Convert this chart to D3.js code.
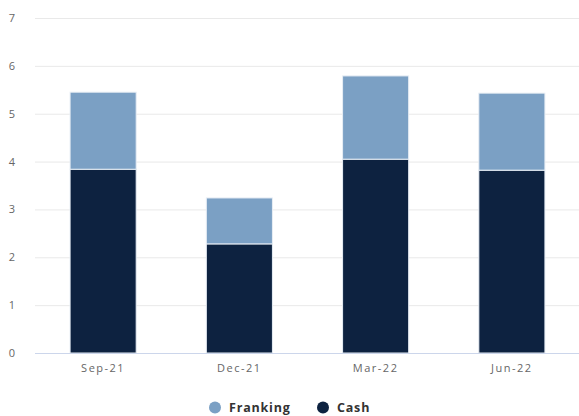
<!DOCTYPE html>
<html>
<head>
<meta charset="utf-8">
<script src="https://cdn.jsdelivr.net/npm/d3@7"></script>
<style>
  body { margin: 0; background: #fff; }
  text { font-family: "Open Sans", "DejaVu Sans", sans-serif; }
</style>
</head>
<body>
<div id="chart"></div>
<script>
// quarters and dividend components (cents per share)
var quarters = ["Sep-21", "Dec-21", "Mar-22", "Jun-22"];
var cash     = [3.84, 2.28, 4.05, 3.82];
var franking = [1.61, 0.96, 1.74, 1.61];
var yTicks   = [0, 1, 2, 3, 4, 5, 6, 7];
var seriesNames = ["Franking", "Cash"];

var color = d3.scaleOrdinal()
    .domain(seriesNames)
    .range(["#7ba0c4", "#0d2240"]);

var width = 579, height = 416;

var svg = d3.select("#chart").append("svg")
    .attr("width", width)
    .attr("height", height);

var x = d3.scaleBand()
    .domain(quarters)
    .range([35, 580])
    .paddingInner(0.515)
    .paddingOuter(0.2575);

var y = d3.scaleLinear()
    .domain([0, 7])
    .range([353, 18]);

// gridlines
svg.append("g")
    .selectAll("line")
    .data(yTicks.filter(d => d > 0))
    .join("line")
    .attr("x1", 35).attr("x2", width)
    .attr("y1", d => y(d) + 0.5).attr("y2", d => y(d) + 0.5)
    .attr("stroke", "#e9e9e9")
    .attr("stroke-width", 1);

// y labels
svg.append("g")
    .selectAll("text")
    .data(yTicks)
    .join("text")
    .attr("x", 15)
    .attr("y", d => y(d) + 4)
    .attr("text-anchor", "end")
    .attr("font-size", 11)
    .attr("fill", "#666")
    .text(d => d);

// stacked bars
var rows = quarters.map((q, i) => ({q: q, Cash: cash[i], Franking: franking[i]}));
var stack = d3.stack().keys(["Cash", "Franking"])(rows);

svg.append("g")
    .selectAll("g")
    .data(stack)
    .join("g")
    .attr("fill", d => color(d.key))
    .selectAll("rect")
    .data(d => d)
    .join("rect")
    .attr("x", d => x(d.data.q))
    .attr("y", d => y(d[1]))
    .attr("width", x.bandwidth())
    .attr("height", d => y(d[0]) - y(d[1]))
    .attr("stroke", "#e8eef5")
    .attr("stroke-width", 1);

// x axis line
svg.append("line")
    .attr("x1", 35).attr("x2", width)
    .attr("y1", y(0) + 0.5).attr("y2", y(0) + 0.5)
    .attr("stroke", "#ccd6eb");

// x labels
svg.append("g")
    .selectAll("text")
    .data(quarters)
    .join("text")
    .attr("x", d => x(d) + x.bandwidth() / 2)
    .attr("y", 372)
    .attr("text-anchor", "middle")
    .attr("font-size", 11)
    .attr("letter-spacing", 1.5)
    .attr("fill", "#666")
    .text(d => d);

// legend
var legendX = [215, 323];
var legend = svg.append("g")
    .selectAll("g")
    .data(seriesNames)
    .join("g")
    .attr("transform", (d, i) => "translate(" + legendX[i] + ",407.5)");

legend.append("circle")
    .attr("r", 6)
    .attr("fill", d => color(d));

legend.append("text")
    .attr("x", 14)
    .attr("y", 4.5)
    .attr("font-size", 12.5)
    .attr("font-weight", "bold")
    .attr("letter-spacing", 0.8)
    .attr("fill", "#333")
    .text(d => d);
</script>
</body>
</html>
